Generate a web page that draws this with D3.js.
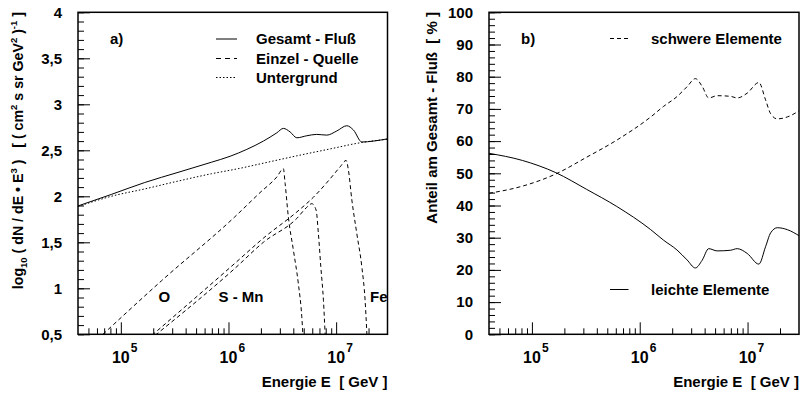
<!DOCTYPE html>
<html>
<head>
<meta charset="utf-8">
<script src="https://cdn.jsdelivr.net/npm/d3@7"></script>
<style>
  body { margin: 0; background: #fff; }
  svg text { font-family: "Liberation Sans", Arial, Helvetica, sans-serif; font-weight: bold; fill: #000; white-space: pre; }
</style>
</head>
<body>
<svg id="chart" width="804" height="393"></svg>
<script>
// panel a) -- x values are log10(E / GeV), y values log10(dN/dE * E^3)
const totalLogE = [4.602, 4.911, 5.222, 5.531, 5.841, 6.015, 6.170, 6.324, 6.449, 6.510, 6.572, 6.635, 6.727, 6.820, 6.913, 7.006, 7.099, 7.161, 7.239, 7.346, 7.478];
const totalFlux = [1.895, 2.02, 2.15, 2.26, 2.37, 2.435, 2.51, 2.60, 2.69, 2.738, 2.70, 2.636, 2.658, 2.673, 2.665, 2.71, 2.767, 2.72, 2.59, 2.60, 2.625];

const bgLogE = [4.602, 4.75, 4.911, 5.222, 5.531, 5.841, 6.089, 6.324, 6.635, 6.944, 7.239, 7.478];
const bgFlux = [1.89, 1.945, 2.0, 2.08, 2.165, 2.245, 2.30, 2.36, 2.44, 2.515, 2.585, 2.62];

const oLogE = [4.834, 5.376, 6.058, 6.293, 6.449, 6.510, 6.526, 6.556, 6.603, 6.649, 6.681, 6.692];
const oFlux = [0.50, 1.08, 1.776, 2.04, 2.21, 2.30, 2.14, 1.776, 1.414, 1.05, 0.69, 0.48];

const smLogE = [5.320, 6.058, 6.324, 6.635, 6.727, 6.774, 6.814, 6.835, 6.858, 6.882, 6.899];
const smFlux = [0.49, 1.215, 1.50, 1.76, 1.88, 1.92, 1.85, 1.596, 1.23, 0.87, 0.47];

const feLogE = [5.290, 6.058, 6.324, 6.635, 6.789, 6.944, 7.037, 7.093, 7.114, 7.146, 7.192, 7.239, 7.269, 7.287];
const feFlux = [0.49, 1.27, 1.545, 1.83, 1.99, 2.19, 2.32, 2.39, 2.285, 1.96, 1.595, 1.23, 0.87, 0.47];

// panel b) -- share of total flux in percent
const fracLogE = [4.602, 4.911, 5.222, 5.508, 5.787, 6.098, 6.222, 6.345, 6.439, 6.516, 6.579, 6.640, 6.718, 6.842, 6.904, 6.997, 7.105, 7.167, 7.214, 7.276, 7.369, 7.478];
const heavyPct = [43.8, 46.0, 49.8, 55.0, 60.3, 67.4, 70.8, 73.8, 76.9, 79.4, 77.0, 73.4, 74.1, 73.9, 73.4, 74.9, 78.2, 72.8, 68.5, 66.9, 67.5, 69.4];
const lightPct = [56.2, 54.0, 50.2, 45.0, 39.7, 32.6, 29.2, 26.2, 23.1, 20.6, 23.0, 26.6, 25.9, 26.1, 26.6, 25.1, 21.8, 27.2, 31.5, 33.1, 32.5, 30.6];

// axes
const energyDomain = [4e4, 3e7];
const energyMajor = [1e5, 1e6, 1e7];
const energyExp = ["5", "6", "7"];
const fluxTicks = [0.5, 1, 1.5, 2, 2.5, 3, 3.5, 4];
const fluxLabels = ["0,5", "1", "1,5", "2", "2,5", "3", "3,5", "4"];
const pctTicks = [0, 10, 20, 30, 40, 50, 60, 70, 80, 90, 100];

const svg = d3.select("#chart");
const plotTop = 12.3, plotBottom = 334.3;

function zip(xs, ys) { return xs.map((v, i) => [v, ys[i]]); }

function drawPanel(cfg) {
  const x = d3.scaleLog().domain(energyDomain).range([cfg.left, cfg.right]);
  const y = d3.scaleLinear().domain(cfg.yDomain).range([plotBottom, plotTop]);
  const g = svg.append("g");

  const clipId = "clip-" + cfg.name;
  svg.append("clipPath").attr("id", clipId)
    .append("rect")
    .attr("x", cfg.left).attr("y", plotTop)
    .attr("width", cfg.right - cfg.left).attr("height", plotBottom - plotTop);

  const line = d3.line()
    .x(d => x(10 ** d[0]))
    .y(d => y(d[1]))
    .curve(d3.curveMonotoneX);

  cfg.series.forEach(s => {
    g.append("path")
      .datum(s.data)
      .attr("clip-path", `url(#${clipId})`)
      .attr("fill", "none")
      .attr("stroke", "#000")
      .attr("stroke-width", 1)
      .attr("stroke-dasharray", s.dash)
      .attr("d", line);
  });

  // minor ticks on the log axis
  const minor = [];
  for (let p = 4; p <= 7; p++)
    for (let m = 2; m <= 9; m++) {
      const v = m * 10 ** p;
      if (v > energyDomain[0] && v < energyDomain[1]) minor.push(v);
    }

  g.append("g")
    .attr("transform", `translate(0,${plotBottom})`)
    .call(d3.axisBottom(x).tickValues(minor).tickSize(-6).tickFormat(""))
    .call(ax => ax.select(".domain").remove());
  g.append("g")
    .attr("transform", `translate(0,${plotBottom})`)
    .call(d3.axisBottom(x).tickValues(energyMajor).tickSize(-12).tickFormat(""))
    .call(ax => ax.select(".domain").remove());

  const yMinor = d3.range(cfg.yDomain[0], cfg.yDomain[1] + 1e-9, cfg.minorStep);
  g.append("g")
    .attr("transform", `translate(${cfg.left},0)`)
    .call(d3.axisLeft(y).tickValues(yMinor).tickSize(-6).tickFormat(""))
    .call(ax => ax.select(".domain").remove());
  g.append("g")
    .attr("transform", `translate(${cfg.left},0)`)
    .call(d3.axisLeft(y).tickValues(cfg.yTicks).tickSize(-12).tickPadding(16)
      .tickFormat((d, i) => cfg.yLabels[i]))
    .call(ax => ax.select(".domain").remove())
    .call(ax => ax.selectAll("text").attr("font-size", 15).attr("font-family", null));

  g.selectAll(".tick line").attr("stroke", "#000");

  // decade labels 10^n
  energyMajor.forEach((v, i) => {
    g.append("text")
      .attr("x", x(v)).attr("y", 363)
      .attr("text-anchor", "middle")
      .attr("font-size", 16)
      .text("10");
    g.append("text")
      .attr("x", x(v) + 10).attr("y", 352)
      .attr("font-size", 12)
      .text(energyExp[i]);
  });

  // frame
  g.append("rect")
    .attr("x", cfg.left).attr("y", plotTop)
    .attr("width", cfg.right - cfg.left).attr("height", plotBottom - plotTop)
    .attr("fill", "none").attr("stroke", "#000").attr("stroke-width", 1.5);

  g.append("text")
    .attr("x", cfg.right).attr("y", 387)
    .attr("text-anchor", "end")
    .attr("font-size", 15)
    .text("Energie E  [ GeV ]");

  return { g, x, y };
}

// ---- panel a
const a = drawPanel({
  name: "a", left: 78, right: 387.5,
  yDomain: [0.5, 4], yTicks: fluxTicks, yLabels: fluxLabels, minorStep: 0.1,
  series: [
    { data: zip(bgLogE, bgFlux), dash: "1.5,2" },
    { data: zip(oLogE, oFlux), dash: "4,3" },
    { data: zip(smLogE, smFlux), dash: "4,3" },
    { data: zip(feLogE, feFlux), dash: "4,3" },
    { data: zip(totalLogE, totalFlux), dash: null }
  ]
});

const yTitleA = svg.append("text")
  .attr("transform", "translate(23,12) rotate(-90)")
  .attr("text-anchor", "end")
  .attr("font-size", 14.2);
yTitleA.append("tspan").text("log");
yTitleA.append("tspan").attr("font-size", 9.5).attr("dy", 4).text("10");
yTitleA.append("tspan").attr("dy", -4).text(" ( dN / dE • E");
yTitleA.append("tspan").attr("font-size", 9.5).attr("dy", -6).text("3");
yTitleA.append("tspan").attr("dy", 6).text(" )   [ ( cm");
yTitleA.append("tspan").attr("font-size", 9.5).attr("dy", -6).text("2");
yTitleA.append("tspan").attr("dy", 6).text(" s sr GeV");
yTitleA.append("tspan").attr("font-size", 9.5).attr("dy", -6).text("2");
yTitleA.append("tspan").attr("dy", 6).text(" )");
yTitleA.append("tspan").attr("font-size", 9.5).attr("dy", -6).text("-1");
yTitleA.append("tspan").attr("dy", 6).text(" ]");

a.g.append("text").attr("x", 110).attr("y", 44).attr("font-size", 15).text("a)");

const legendA = [
  { label: "Gesamt - Fluß", dash: null, y: 39 },
  { label: "Einzel - Quelle", dash: "5,4", y: 58.5 },
  { label: "Untergrund", dash: "1.5,2", y: 77.5 }
];
legendA.forEach(d => {
  a.g.append("line")
    .attr("x1", 216).attr("x2", 237).attr("y1", d.y).attr("y2", d.y)
    .attr("stroke", "#000").attr("stroke-width", 1)
    .attr("stroke-dasharray", d.dash);
  a.g.append("text").attr("x", 256).attr("y", d.y + 5.3)
    .attr("font-size", 15).text(d.label);
});

[["O", 158.5], ["S - Mn", 218.5], ["Fe", 370]].forEach(([t, px]) => {
  a.g.append("text").attr("x", px).attr("y", 302).attr("font-size", 15).text(t);
});

// ---- panel b
const b = drawPanel({
  name: "b", left: 489, right: 799,
  yDomain: [0, 100], yTicks: pctTicks, yLabels: pctTicks.map(String), minorStep: 2,
  series: [
    { data: zip(fracLogE, heavyPct), dash: "4,3" },
    { data: zip(fracLogE, lightPct), dash: null }
  ]
});

svg.append("text")
  .attr("transform", "translate(437,12) rotate(-90)")
  .attr("text-anchor", "end")
  .attr("font-size", 15)
  .text("Anteil am Gesamt - Fluß  [ % ]");

b.g.append("text").attr("x", 521).attr("y", 44).attr("font-size", 15).text("b)");

const legendB = [
  { label: "schwere Elemente", dash: "4,3", y: 38.5 },
  { label: "leichte Elemente", dash: null, y: 289.5 }
];
legendB.forEach(d => {
  b.g.append("line")
    .attr("x1", 610).attr("x2", 628.5).attr("y1", d.y).attr("y2", d.y)
    .attr("stroke", "#000").attr("stroke-width", 1)
    .attr("stroke-dasharray", d.dash);
  b.g.append("text").attr("x", 651).attr("y", d.y + 5.3)
    .attr("font-size", 15).text(d.label);
});
</script>
</body>
</html>
